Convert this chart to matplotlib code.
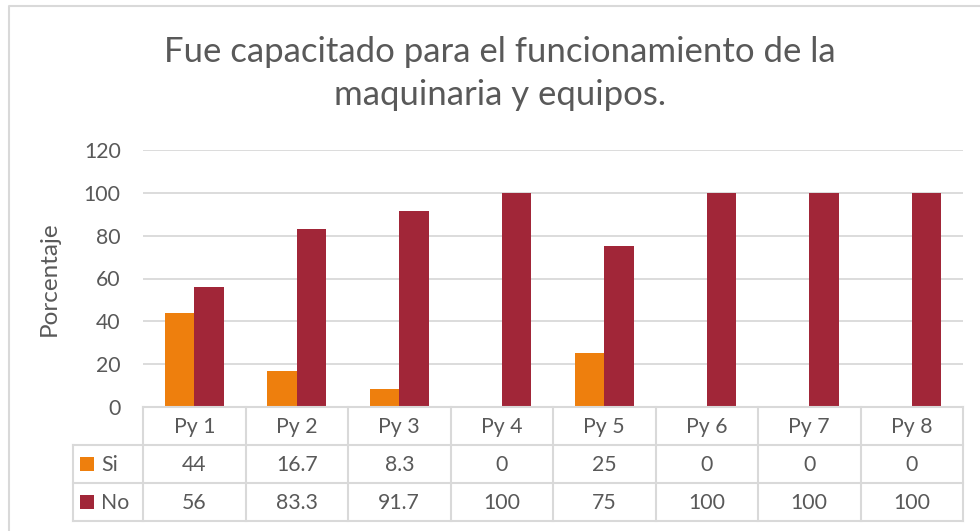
import matplotlib
matplotlib.use("Agg")
import matplotlib.pyplot as plt
import numpy as np

categories = ["Py 1", "Py 2", "Py 3", "Py 4", "Py 5", "Py 6", "Py 7", "Py 8"]
si_values = [44, 16.7, 8.3, 0, 25, 0, 0, 0]
no_values = [56, 83.3, 91.7, 100, 75, 100, 100, 100]
series_names = ["Si", "No"]
yticks = [0, 20, 40, 60, 80, 100, 120]
title_lines = ["Fue capacitado para el funcionamiento de la", "maquinaria y equipos."]
ylabel = "Porcentaje"

c_si = "#EE7F0D"
c_no = "#A12638"
grid_c = "#D9D9D9"
text_c = "#595959"
fs = 15.3

plt.rcParams['font.family'] = ['Lato', 'DejaVu Sans']

W, H = 980, 531
fig = plt.figure(figsize=(W / 100, H / 100), dpi=100)
fig.patch.set_facecolor("white")

def fx(px):
    return px / W

def fy(py):
    return 1 - py / H

# outer chart border (chart area continues beyond image)
ov = fig.add_axes([0, 0, 1, 1], zorder=-5)
ov.set_xlim(0, W)
ov.set_ylim(H, 0)
ov.axis("off")
ov.plot([9, 9, W + 5], [H + 5, 6, 6], color=grid_c, lw=1.5, solid_capstyle="butt")

# main plot
left, right, top, bottom = 143, 963, 150, 407
ax = fig.add_axes([fx(left), fy(bottom), fx(right - left), (bottom - top) / H])
x = np.arange(len(categories))
w = 0.287
ax.bar(x - w / 2, si_values, w, color=c_si, zorder=3)
ax.bar(x + w / 2, no_values, w, color=c_no, zorder=3)
ax.set_xlim(-0.5, len(categories) - 0.5)
ax.set_ylim(0, 120)
ax.set_yticks(yticks)
ax.set_yticklabels([str(v) for v in yticks], fontsize=fs, color=text_c)
ax.tick_params(axis="y", length=0, pad=16)
ax.set_xticks([])
ax.yaxis.grid(True, color=grid_c, lw=1.3)
ax.set_axisbelow(True)
for s in ax.spines.values():
    s.set_visible(False)
ax.set_ylabel(ylabel, fontsize=17.5, color=text_c)
ax.yaxis.set_label_coords((60 - left) / (right - left), 0.5)

# data table
tb_top, tb_bot = 407, 521
tax = fig.add_axes([fx(left), fy(tb_bot), fx(right - left), (tb_bot - tb_top) / H])
tax.set_xlim(-0.5, len(categories) - 0.5)
tax.set_ylim(3, 0)
tax.axis("off")
unit = (right - left) / len(categories)
lab_left = -0.5 - (left - 73) / unit
lw = 1.5
for r in range(4):
    x0 = -0.5 if r == 0 else lab_left
    tax.plot([x0, len(categories) - 0.5], [r, r], color=grid_c, lw=lw, clip_on=False)
for k in range(len(categories) + 1):
    tax.plot([k - 0.5, k - 0.5], [0, 3], color=grid_c, lw=lw, clip_on=False)
tax.plot([lab_left, lab_left], [1, 3], color=grid_c, lw=lw, clip_on=False)

for i, cat in enumerate(categories):
    tax.text(i, 0.52, cat, ha="center", va="center", fontsize=fs, color=text_c)
    tax.text(i, 1.52, f"{si_values[i]:g}", ha="center", va="center", fontsize=fs, color=text_c)
    tax.text(i, 2.52, f"{no_values[i]:g}", ha="center", va="center", fontsize=fs, color=text_c)

key_x = -0.5 - (left - 87) / unit
txt_x = -0.5 - (left - 101) / unit
for r, (name, col) in enumerate(zip(series_names, [c_si, c_no]), start=1):
    tax.plot([key_x], [r + 0.5], marker="s", ms=9.5, color=col, clip_on=False, mew=0)
    tax.text(txt_x, r + 0.52, name, ha="left", va="center", fontsize=fs, color=text_c)

# title
fig.text(0.51, fy(62), title_lines[0], ha="center", va="baseline", fontsize=25, color=text_c)
fig.text(0.51, fy(105), title_lines[1], ha="center", va="baseline", fontsize=25, color=text_c)

fig.savefig("out.png", dpi=100, facecolor="white")
